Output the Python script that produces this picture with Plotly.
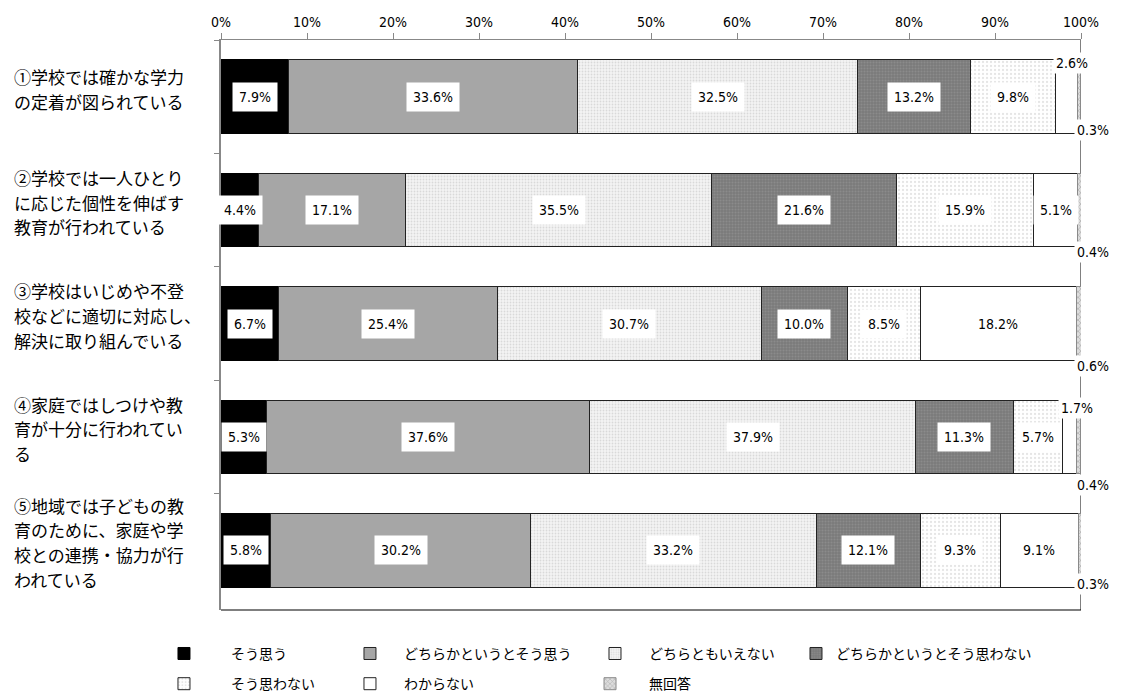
import plotly.graph_objects as go

# ---------------- data ----------------
categories = [
    "①学校では確かな学力<br>の定着が図られている",
    "②学校では一人ひとり<br>に応じた個性を伸ばす<br>教育が行われている",
    "③学校はいじめや不登<br>校などに適切に対応し、<br>解決に取り組んでいる",
    "④家庭ではしつけや教<br>育が十分に行われてい<br>る",
    "⑤地域では子どもの教<br>育のために、家庭や学<br>校との連携・協力が行<br>われている",
]
series_names = [
    "そう思う",
    "どちらかというとそう思う",
    "どちらともいえない",
    "どちらかというとそう思わない",
    "そう思わない",
    "わからない",
    "無回答",
]
sou_omou = [7.9, 4.4, 6.7, 5.3, 5.8]
dochira_sou = [33.6, 17.1, 25.4, 37.6, 30.2]
dochira_tomo = [32.5, 35.5, 30.7, 37.9, 33.2]
dochira_omowanai = [13.2, 21.6, 10.0, 11.3, 12.1]
sou_omowanai = [9.8, 15.9, 8.5, 5.7, 9.3]
wakaranai = [2.6, 5.1, 18.2, 1.7, 9.1]
mukaitou = [0.3, 0.4, 0.6, 0.4, 0.3]
series_values = [sou_omou, dochira_sou, dochira_tomo, dochira_omowanai,
                 sou_omowanai, wakaranai, mukaitou]
x_ticks = [0, 10, 20, 30, 40, 50, 60, 70, 80, 90, 100]
x_tick_labels = [f"{v}%" for v in x_ticks]

# ---------------- styles ----------------
styles = [
    dict(color="#000000", pattern=dict(shape=""), line="#000000"),
    dict(color="#a6a6a6", pattern=dict(shape=""), line="#222222"),
    dict(color="#f4f4f4", pattern=dict(shape=".", fgcolor="#bdbdbd", size=3, solidity=0.3), line="#222222"),
    dict(color="#7a7a7a", pattern=dict(shape=".", fgcolor="#9c9c9c", size=3, solidity=0.4), line="#222222"),
    dict(color="#ffffff", pattern=dict(shape=".", fgcolor="#cccccc", size=4, solidity=0.25), line="#222222"),
    dict(color="#ffffff", pattern=dict(shape=""), line="#222222"),
    dict(color="#dddddd", pattern=dict(shape="x", fgcolor="#777777", size=4, solidity=0.3), line="#8a8a8a"),
]

# labels drawn outside the bar: (row, series) -> (xshift px from 100%, yshift px)
outside = {
    (0, 5): (-9, 34), (0, 6): (12, -33),
    (1, 6): (12, -42),
    (2, 6): (12, -42),
    (3, 5): (-4, 29), (3, 6): (12, -48),
    (4, 6): (12, -34),
}

# legend placement (one legend per entry): (x paper, y paper, itemwidth)
legend_pos = [
    (-0.0977, -0.077, 84), (0.1337, -0.077, 58), (0.4186, -0.077, 58), (0.6686, -0.077, 30),
    (-0.0977, -0.130, 84), (0.1337, -0.130, 58), (0.407, -0.130, 68),
]

num_font = "Liberation Sans Narrow, DejaVu Sans Condensed, sans-serif"
jp_font = "Noto Sans CJK JP, sans-serif"
cat_font_size = 17
cat_line_gap = 24.8

fig = go.Figure()
for k, (name, vals, st) in enumerate(zip(series_names, series_values, styles)):
    fig.add_trace(go.Bar(
        name=name, y=categories, x=vals, orientation="h", width=0.65,
        marker=dict(color=st["color"], pattern=st["pattern"],
                    line=dict(color=st["line"], width=1)),
        hoverinfo="x+name",
        legend="legend" if k == 0 else f"legend{k + 1}",
    ))

annotations = []
for r, cat in enumerate(categories):
    cum = 0.0
    for s, vals in enumerate(series_values):
        v = vals[r]
        txt = f"{v:.1f}%"
        if (r, s) in outside:
            dx, dy = outside[(r, s)]
            annotations.append(dict(x=100, y=cat, xref="x", yref="y", text=txt,
                                    showarrow=False, xshift=dx, yshift=dy,
                                    font=dict(family=num_font, size=14, color="#000"),
                                    bgcolor="#ffffff", borderpad=2))
        else:
            annotations.append(dict(x=cum + v / 2, y=cat, xref="x", yref="y", text=txt,
                                    showarrow=False,
                                    font=dict(family=num_font, size=14, color="#000"),
                                    bgcolor="#ffffff", borderpad=6))
        cum += v
    lines = cat.split("<br>")
    n = len(lines)
    for i, ln in enumerate(lines):
        annotations.append(dict(x=-0.243, xref="paper", y=cat, yref="y", text=ln,
                                xanchor="left", align="left", showarrow=False,
                                yshift=8 + ((n - 1) / 2 - i) * cat_line_gap,
                                font=dict(family=jp_font, size=cat_font_size, color="#000")))

legends = {}
for k, (lx, ly, iw) in enumerate(legend_pos):
    key = "legend" if k == 0 else f"legend{k + 1}"
    legends[key] = dict(orientation="h", x=lx, xanchor="left", y=ly, yanchor="middle",
                        font=dict(family=jp_font, size=14, color="#000"),
                        itemwidth=iw, bgcolor="rgba(0,0,0,0)")

fig.update_layout(
    width=1124, height=698,
    margin=dict(l=221, r=43, t=40, b=88, autoexpand=False),
    barmode="stack",
    plot_bgcolor="#ffffff", paper_bgcolor="#ffffff",
    annotations=annotations,
    showlegend=True,
    shapes=[
        dict(type="line", xref="x", yref="paper", x0=100, x1=100, y0=0, y1=1,
             line=dict(color="#000000", width=1), layer="below"),
        dict(type="line", xref="x", yref="paper", x0=0, x1=100, y0=0, y1=0,
             line=dict(color="#000000", width=1.2), layer="above"),
    ],
    **legends,
)
fig.update_xaxes(
    range=[0, 100], side="top", tickmode="array", tickvals=x_ticks, ticktext=x_tick_labels,
    ticks="outside", ticklen=6, tickcolor="#888888",
    showline=True, linecolor="#888888", linewidth=1,
    showgrid=False, zeroline=False, automargin=False,
    tickfont=dict(family=num_font, size=14, color="#000"),
    fixedrange=True,
)
fig.update_yaxes(
    type="category", categoryorder="array", categoryarray=categories,
    autorange="reversed", showticklabels=False, automargin=False,
    ticks="outside", ticklen=5, tickcolor="#888888", tickson="boundaries",
    showline=True, linecolor="#888888", linewidth=1.5, showgrid=False,
    fixedrange=True,
)

fig.write_html("out.html", config={"displayModeBar": False},
               post_script="document.body.style.margin='0';")
